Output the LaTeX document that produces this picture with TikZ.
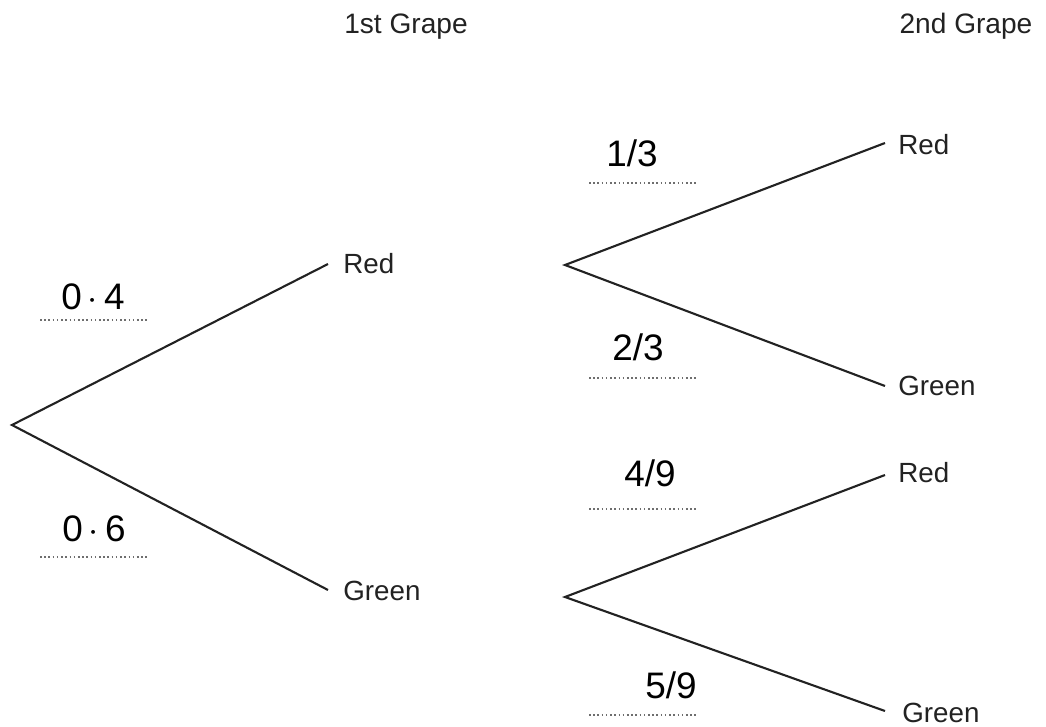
\documentclass[tikz,border=0pt]{standalone}
\usepackage{fontspec}
\setmainfont{Liberation Sans}
\usetikzlibrary{positioning}
\definecolor{InkGray}{RGB}{34,34,34}
\definecolor{DotGray}{RGB}{110,110,110}

\begin{document}
\begin{tikzpicture}[x=0.02cm, y=-0.02cm,
    branch/.style={draw=InkGray, line width=1.2pt},
    outcome/.style={font=\fontsize{15.8}{18}\selectfont, text=InkGray, inner sep=0pt, anchor=base west},
    heading/.style={font=\fontsize{16}{18}\selectfont, text=InkGray, inner sep=0pt, anchor=base},
    answer/.style={font=\fontsize{21}{24}\selectfont, text=black, inner sep=0pt},
    blank/.style={draw=DotGray, line width=0.9pt, dash pattern=on 0.9pt off 1.5pt}]
  \useasboundingbox (0,0) rectangle (1046,727);

  % headings
  \node[heading] (first) at (406,33) {1st Grape};
  \node[heading] (second) at (966,33) {2nd Grape};

  % 1st grape
  \coordinate (root) at (12,425);
  \coordinate (r) at (328,264);
  \coordinate (g) at (328,590);
  \draw[branch] (r) -- (root) -- (g);
  \node[outcome] (rtext) at ([shift={(15,9)}]r) {Red};
  \node[outcome] (gtext) at ([shift={(15,10)}]g) {Green};

  % 2nd grape after red
  \coordinate (rroot) at (565,265);
  \coordinate (rr) at (885,143);
  \coordinate (rg) at (885,386);
  \draw[branch] (rr) -- (rroot) -- (rg);
  \node[outcome] (rrtext) at ([shift={(13,11)}]rr) {Red};
  \node[outcome] (rgtext) at ([shift={(13,9)}]rg) {Green};

  % 2nd grape after green
  \coordinate (groot) at (565,597);
  \coordinate (gr) at (885,475);
  \coordinate (gg) at (885,711);
  \draw[branch] (gr) -- (groot) -- (gg);
  \node[outcome] (grtext) at ([shift={(13,7)}]gr) {Red};
  \node[outcome] (ggtext) at ([shift={(17,11)}]gg) {Green};

  % answer lines
  \foreach \x/\y in {40/320, 40/557, 589/183, 589/378, 589/509, 589/715}
    \draw[blank] (\x,\y) -- ++(108,0);

  % answers
  \node[answer] (pr) at (93,297) {0\,$\cdot$\,4};
  \node[answer] (pg) at (94,529) {0\,$\cdot$\,6};
  \node[answer] (prr) at (632,153) {1/3};
  \node[answer] (prg) at (638,347) {2/3};
  \node[answer] (pgr) at (650,473) {4/9};
  \node[answer] (pgg) at (671,685) {5/9};
\end{tikzpicture}
\end{document}
